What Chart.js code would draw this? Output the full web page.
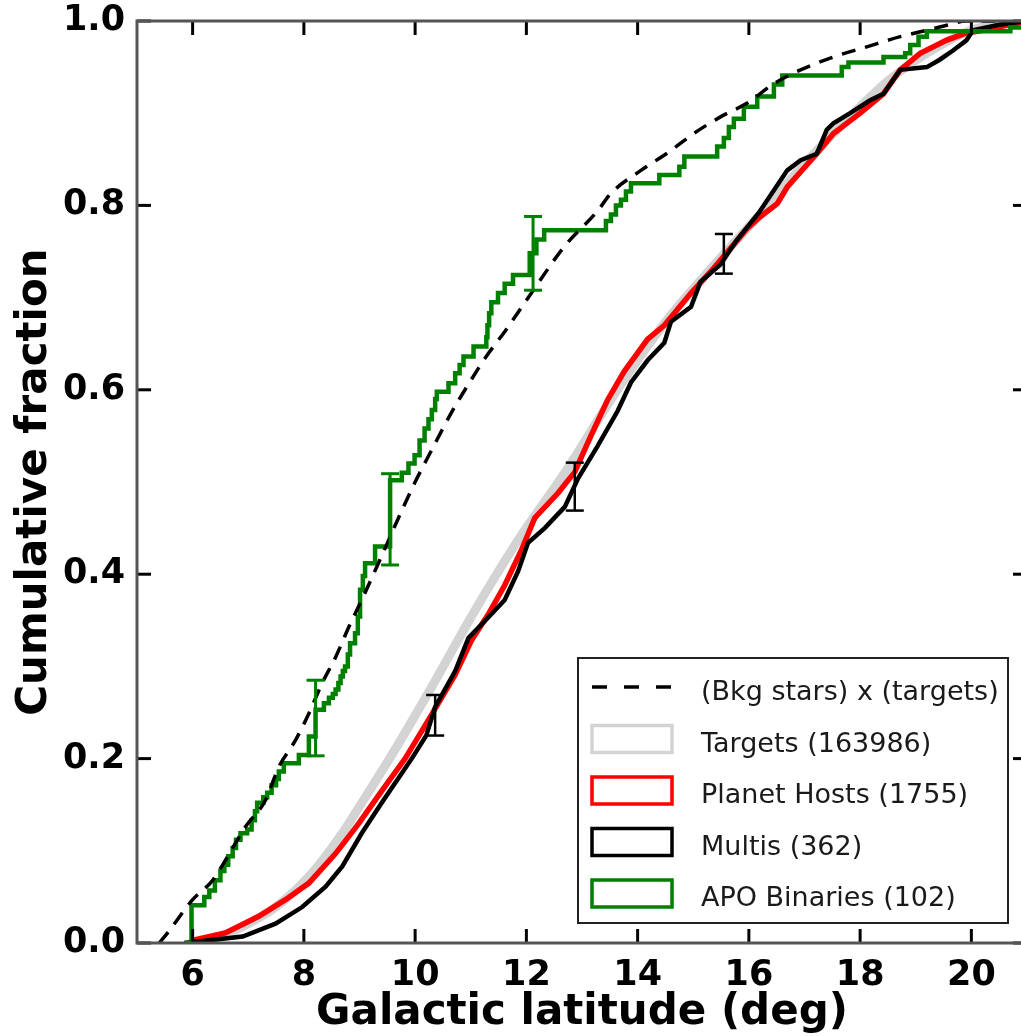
<!DOCTYPE html>
<html>
<head>
<meta charset="utf-8">
<script src="https://cdn.jsdelivr.net/npm/chart.js@4.4.1/dist/chart.umd.min.js"></script>
<style>
  html, body { margin: 0; padding: 0; background: #fff; overflow: hidden; }
  #wrap { position: absolute; left: 0; top: 0; width: 1040px; height: 1050px; }
</style>
</head>
<body>
<div id="wrap"><canvas id="cdf" width="1040" height="1050"></canvas></div>
<script>
// --- data ---
const xTicks = [6, 8, 10, 12, 14, 16, 18, 20];
const yTicks = [0, 0.2, 0.4, 0.6, 0.8, 1.0];

// (Bkg stars) x (targets) : dashed model curve
const bkgLat  = [5.4, 5.55, 6.0, 6.36, 6.66, 6.95, 7.31, 7.55, 7.85, 8.09, 8.33, 8.57, 8.81, 9.1, 9.4, 9.7, 10.0, 10.3, 10.65, 11.02, 11.3, 11.61, 12.09, 12.69, 13.28, 13.52, 14.06, 14.54, 15.01, 15.49, 15.97, 16.45, 16.93, 17.52, 18.12, 18.72, 19.2, 19.6, 19.9, 21];
const bkgFrac = [0, 0.011, 0.047, 0.068, 0.097, 0.126, 0.155, 0.191, 0.22, 0.249, 0.282, 0.31, 0.343, 0.38, 0.42, 0.461, 0.5, 0.535, 0.575, 0.612, 0.638, 0.663, 0.705, 0.756, 0.794, 0.813, 0.838, 0.857, 0.878, 0.896, 0.911, 0.932, 0.947, 0.961, 0.972, 0.983, 0.99, 0.996, 1.0, 1.0];

// Targets (163986)
const tgtLat  = [6.0, 6.3, 6.8, 7.49, 8.09, 8.69, 9.04, 9.52, 10.3, 11.02, 11.85, 12.69, 13.58, 14.48, 15.37, 16.2, 17.0, 17.8, 18.5, 19.2, 20.0, 21];
const tgtFrac = [0, 0.003, 0.015, 0.039, 0.072, 0.119, 0.152, 0.198, 0.278, 0.355, 0.437, 0.51, 0.595, 0.672, 0.735, 0.79, 0.845, 0.895, 0.935, 0.965, 0.99, 1.0];

// Planet Hosts (1755)
const hostLat  = [5.95, 6.0, 6.59, 7.19, 7.67, 8.09, 8.57, 8.99, 9.4, 9.82, 10.3, 10.72, 11.02, 11.31, 11.61, 11.91, 12.15, 12.57, 12.87, 13.16, 13.46, 13.76, 14.18, 14.48, 14.96, 15.37, 15.97, 16.21, 16.51, 16.69, 17.22, 17.52, 18.0, 18.42, 18.72, 19.08, 19.55, 19.91, 20.21, 21];
const hostFrac = [0, 0.003, 0.011, 0.029, 0.047, 0.065, 0.097, 0.13, 0.165, 0.2, 0.248, 0.291, 0.329, 0.356, 0.388, 0.426, 0.461, 0.488, 0.511, 0.55, 0.589, 0.62, 0.655, 0.67, 0.705, 0.732, 0.775, 0.788, 0.802, 0.82, 0.856, 0.878, 0.9, 0.921, 0.947, 0.965, 0.979, 0.987, 0.99, 1.0];

// Multis (362)
const multiLat  = [5.85, 6.0, 6.9, 7.49, 7.97, 8.39, 8.69, 9.04, 9.4, 9.94, 10.2, 10.36, 10.72, 10.96, 11.25, 11.61, 11.85, 12.03, 12.33, 12.69, 12.93, 13.28, 13.64, 13.88, 14.18, 14.48, 14.6, 14.96, 15.13, 15.49, 15.79, 16.18, 16.69, 16.93, 17.22, 17.4, 17.52, 17.82, 18.18, 18.42, 18.72, 19.2, 19.43, 19.67, 19.91, 20.03, 20.5, 21];
const multiFrac = [0, 0.001, 0.007, 0.021, 0.039, 0.061, 0.083, 0.119, 0.152, 0.2, 0.225, 0.256, 0.295, 0.331, 0.349, 0.372, 0.403, 0.434, 0.45, 0.473, 0.504, 0.539, 0.577, 0.608, 0.632, 0.651, 0.674, 0.69, 0.717, 0.736, 0.763, 0.792, 0.838, 0.849, 0.856, 0.882, 0.889, 0.9, 0.914, 0.921, 0.947, 0.95, 0.958, 0.968, 0.979, 0.99, 0.996, 1.0];

// APO Binaries (102) : step CDF
const apoLat  = [5.85, 5.98, 6.21, 6.30, 6.40, 6.50, 6.57, 6.64, 6.72, 6.78, 6.86, 6.98, 7.06, 7.12, 7.16, 7.27, 7.34, 7.42, 7.50, 7.55, 7.64, 7.91, 8.09, 8.21, 8.36, 8.45, 8.52, 8.57, 8.62, 8.66, 8.70, 8.74, 8.79, 8.83, 8.92, 8.97, 9.01, 9.06, 9.10, 9.28, 9.55, 9.76, 9.88, 9.99, 10.08, 10.17, 10.24, 10.30, 10.36, 10.39, 10.60, 10.72, 10.80, 10.87, 11.05, 11.28, 11.30, 11.33, 11.37, 11.49, 11.61, 11.76, 12.06, 12.18, 12.32, 13.43, 13.52, 13.61, 13.70, 13.79, 13.88, 14.39, 14.75, 14.84, 15.43, 15.55, 15.64, 15.73, 15.91, 16.15, 16.45, 16.60, 17.67, 17.79, 18.42, 18.81, 18.90, 19.05, 19.20, 20.70, 21.0];
const apoFrac = [0, 0.041, 0.05, 0.057, 0.068, 0.078, 0.085, 0.094, 0.103, 0.112, 0.119, 0.123, 0.133, 0.143, 0.152, 0.158, 0.163, 0.171, 0.178, 0.186, 0.195, 0.204, 0.224, 0.253, 0.26, 0.266, 0.27, 0.275, 0.282, 0.289, 0.295, 0.30, 0.313, 0.325, 0.336, 0.354, 0.383, 0.398, 0.412, 0.43, 0.502, 0.51, 0.52, 0.529, 0.545, 0.558, 0.568, 0.578, 0.59, 0.598, 0.607, 0.618, 0.627, 0.636, 0.647, 0.657, 0.67, 0.683, 0.695, 0.705, 0.715, 0.7245, 0.748, 0.763, 0.773, 0.783, 0.79, 0.80, 0.806, 0.815, 0.824, 0.833, 0.842, 0.853, 0.864, 0.873, 0.885, 0.894, 0.907, 0.918, 0.931, 0.941, 0.95, 0.955, 0.961, 0.965, 0.974, 0.983, 0.989, 0.993, 1.0];

// error bars
const apoErrLat    = [8.21, 9.55, 12.12];
const apoErrLow    = [0.203, 0.41, 0.708];
const apoErrHigh   = [0.285, 0.509, 0.788];
const multiErrLat  = [10.36, 12.87, 15.55];
const multiErrLow  = [0.225, 0.469, 0.726];
const multiErrHigh = [0.269, 0.521, 0.769];

const legendLabels = ['(Bkg stars) x (targets)', 'Targets (163986)', 'Planet Hosts (1755)', 'Multis (362)', 'APO Binaries (102)'];

const pts = (xs, ys) => xs.map((v, i) => ({ x: v, y: ys[i] }));

// spines, inward ticks and error bars
const frameTicks = {
    id: 'frameTicks',
    afterDatasetsDraw(chart) {
        const { ctx, chartArea: a, scales: { x, y } } = chart;
        const seg = (x1, y1, x2, y2) => { ctx.beginPath(); ctx.moveTo(x1, y1); ctx.lineTo(x2, y2); ctx.stroke(); };
        ctx.save();

        const errBars = (xs, lo, hi, color, w) => {
            ctx.strokeStyle = color;
            ctx.lineWidth = w;
            xs.forEach((v, i) => {
                const px = x.getPixelForValue(v);
                const p1 = y.getPixelForValue(lo[i]);
                const p2 = y.getPixelForValue(hi[i]);
                seg(px, p1, px, p2);
                seg(px - 9, p1, px + 9, p1);
                seg(px - 9, p2, px + 9, p2);
            });
        };
        errBars(apoErrLat, apoErrLow, apoErrHigh, '#008000', 3);
        errBars(multiErrLat, multiErrLow, multiErrHigh, '#000', 2.5);

        ctx.strokeStyle = '#000';
        ctx.lineWidth = 3;
        xTicks.forEach(v => {
            const px = x.getPixelForValue(v);
            seg(px, a.bottom, px, a.bottom - 14);
            seg(px, a.top, px, a.top + 14);
        });
        yTicks.forEach(v => {
            const py = y.getPixelForValue(v);
            seg(a.left, py, a.left + 14, py);
            seg(a.right, py, a.right - 14, py);
        });

        ctx.strokeStyle = '#555';
        ctx.lineWidth = 3;
        ctx.strokeRect(a.left, a.top, a.right - a.left, a.bottom - a.top);
        ctx.restore();
    }
};

// matplotlib-like legend in the lower right
const boxLegend = {
    id: 'boxLegend',
    afterDraw(chart) {
        const { ctx, chartArea: a } = chart;
        const w = 430, h = 265;
        const left = a.right - 19 - w, top = a.bottom - 20 - h;
        ctx.save();
        ctx.fillStyle = '#fff';
        ctx.fillRect(left, top, w, h);
        ctx.strokeStyle = '#222';
        ctx.lineWidth = 2;
        ctx.strokeRect(left, top, w, h);

        ctx.font = '27px "DejaVu Sans"';
        ctx.textBaseline = 'alphabetic';
        legendLabels.forEach((lab, i) => {
            const ds = chart.data.datasets[i];
            const cy = top + 29 + 51.5 * i;
            const hx = left + 14;
            if (ds.borderDash && ds.borderDash.length) {
                ctx.strokeStyle = ds.borderColor;
                ctx.lineWidth = 3.5;
                ctx.setLineDash([15, 17]);
                ctx.beginPath(); ctx.moveTo(hx, cy); ctx.lineTo(hx + 80, cy); ctx.stroke();
                ctx.setLineDash([]);
            } else {
                ctx.strokeStyle = ds.borderColor;
                ctx.lineWidth = 3.5;
                ctx.strokeRect(hx, cy - 13, 80, 27);
            }
            ctx.fillStyle = '#1a1a1a';
            ctx.fillText(lab, left + 123, cy + 13);
        });
        ctx.restore();
    }
};

const tickFont = { family: 'DejaVu Sans', weight: 'bold', size: 35 };
const titleFont = { family: 'DejaVu Sans', weight: 'bold', size: 42, lineHeight: 1.2 };

new Chart(document.getElementById('cdf'), {
    type: 'line',
    data: {
        datasets: [
            { label: legendLabels[0], data: pts(bkgLat, bkgFrac), borderColor: '#000', borderWidth: 3.5,
              borderDash: [14, 10], cubicInterpolationMode: 'monotone', order: 0 },
            { label: legendLabels[1], data: pts(tgtLat, tgtFrac), borderColor: '#d3d3d3', borderWidth: 9,
              cubicInterpolationMode: 'monotone', order: 4 },
            { label: legendLabels[2], data: pts(hostLat, hostFrac), borderColor: '#ff0000', borderWidth: 5.5, order: 3 },
            { label: legendLabels[3], data: pts(multiLat, multiFrac), borderColor: '#000', borderWidth: 4.5, order: 2 },
            { label: legendLabels[4], data: pts(apoLat, apoFrac), borderColor: '#008000', borderWidth: 4.5,
              stepped: 'before', order: 1 }
        ]
    },
    options: {
        responsive: false,
        animation: false,
        devicePixelRatio: 1,
        layout: { padding: { top: 21, right: 13, left: 0, bottom: 0 } },
        elements: { point: { radius: 0 }, line: { fill: false, borderJoinStyle: 'miter' } },
        plugins: { legend: { display: false }, tooltip: { enabled: false } },
        scales: {
            x: {
                type: 'linear', min: 5, max: 21,
                afterBuildTicks: s => { s.ticks = xTicks.map(v => ({ value: v })); },
                afterFit: s => { s.height = 107; s.paddingLeft = 0; s.paddingRight = 0; },
                grid: { display: false, drawTicks: false },
                border: { display: false },
                ticks: { font: tickFont, color: '#000', padding: 12, autoSkip: false, maxRotation: 0,
                         callback: v => String(v) },
                title: { display: true, text: 'Galactic latitude (deg)', font: titleFont, color: '#000',
                         padding: { top: 0, bottom: 12 } }
            },
            y: {
                min: 0, max: 1,
                afterBuildTicks: s => { s.ticks = yTicks.map(v => ({ value: v })); },
                afterFit: s => { s.width = 137; s.paddingTop = 0; s.paddingBottom = 0; },
                grid: { display: false, drawTicks: false },
                border: { display: false },
                ticks: { font: tickFont, color: '#000', padding: 12, callback: v => v.toFixed(1) },
                title: { display: true, text: 'Cumulative fraction', font: titleFont, color: '#000',
                         padding: { top: 10, bottom: 0 } }
            }
        }
    },
    plugins: [frameTicks, boxLegend]
});
</script>
</body>
</html>
